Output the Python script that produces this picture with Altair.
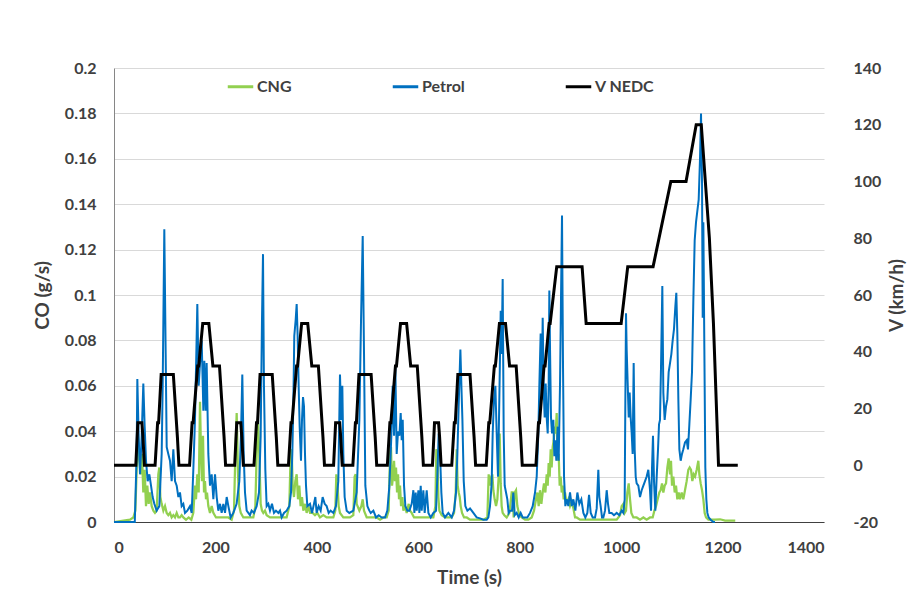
import altair as alt
import pandas as pd

# ---------------- data ----------------
petrol_t = [
    0, 41, 44.7, 46, 48.6, 51.3, 54.6, 57.8, 60.5, 63.1,
    66.4, 69.7, 73, 76.2, 79.5, 84.1, 89.4, 94, 96, 99.2,
    101.9, 103.9, 107.1, 110.4, 113.7, 117, 120.3, 123.6, 126.9, 130.1,
    133.4, 136.7, 140, 144.6, 149.9, 153.2, 156.4, 159.7, 164.3, 167,
    169.6, 172.9, 176.2, 178.1, 180.8, 182.7, 186, 189.3, 192.6, 195.9,
    199.2, 202.5, 205.7, 209, 212.3, 215.6, 218.9, 222.2, 225.5, 230,
    235.3, 241.8, 247.1, 250.4, 253, 255.7, 258.3, 261.6, 264.9, 268.1,
    271.4, 276, 281.3, 285.9, 289.2, 291.8, 293.8, 295.7, 298.4, 301,
    304.3, 307.6, 311.5, 315.5, 319.4, 324, 327.3, 330.6, 335.2, 340.4,
    345.7, 349, 351.6, 353.6, 355.5, 358.2, 360.2, 362.1, 364.1, 366.1,
    368.7, 370.7, 372.7, 374.6, 376.6, 378.6, 381.2, 386.5, 390.4, 394.3,
    397, 399.6, 403.5, 407.5, 411.4, 415.4, 419.3, 423.3, 427.2, 432.5,
    437.7, 442.3, 445.6, 448.2, 450.2, 452.2, 454.8, 458.8, 464, 472,
    478.5, 483.8, 487.1, 490.4, 493, 495.6, 499.6, 503.5, 506.2, 511.4,
    516.7, 521.9, 527.8, 534.4, 539, 543, 546.9, 549.5, 552.2, 554.8,
    557.4, 560.1, 562.7, 565.3, 567.3, 569.3, 571.9, 574.5, 578.5, 582.4,
    587, 590.3, 592.3, 594.9, 596.9, 600.2, 602.1, 604.8, 606.7, 610,
    612.6, 616.6, 619.9, 624.5, 629.7, 635, 637.6, 640.2, 642.9, 645.5,
    648.1, 652.7, 659.3, 665.9, 670.5, 674.4, 677.1, 679.7, 683, 685,
    687, 689.6, 692.8, 696.8, 702, 708.6, 715.1, 721.7, 728.3, 734.9,
    738.2, 741.4, 744.7, 746.7, 749.3, 752, 754.6, 757.2, 759.8, 762.5,
    764.4, 766.4, 768.4, 770.4, 773, 775.6, 778.2, 780.9, 784.8, 787.4,
    790.1, 794, 798, 801.9, 805.9, 810.5, 815, 820.3, 825.6, 830.2,
    833.5, 836.7, 838.7, 841.3, 843.3, 845.3, 847.3, 849.2, 851.2, 853.2,
    855.2, 857.1, 858.4, 859.8, 861.7, 863.7, 866.3, 868.3, 870.3, 872.2,
    874.9, 876.8, 879.5, 881.4, 883.4, 885.4, 887.4, 890, 892.6, 895.9,
    899.2, 902.5, 905.8, 909.7, 913.7, 917.6, 921.5, 925.5, 929.4, 933.4,
    936.7, 940, 943.9, 948.5, 951.8, 953.1, 955, 957, 959.6, 962.3,
    964.9, 968.2, 971.5, 974.1, 976.7, 981.3, 985.9, 991.2, 996.4, 1001,
    1004.3, 1007, 1008.3, 1009.6, 1010.9, 1012.9, 1014.9, 1016.8, 1018.8, 1020.8,
    1022.7, 1024.7, 1026.7, 1028.7, 1030.6, 1033.9, 1037.2, 1040.5, 1043.8, 1047.1,
    1050.3, 1053.6, 1056.9, 1058.9, 1060.9, 1062.8, 1064.8, 1067.4, 1070.1, 1072.7,
    1074.7, 1076.6, 1078.6, 1081.2, 1083.2, 1085.8, 1088.5, 1091.1, 1093.7, 1096.4,
    1099, 1101.6, 1104.2, 1106.9, 1108.8, 1110.8, 1112.8, 1114.8, 1117.4, 1120,
    1122.6, 1125.9, 1129.2, 1131.8, 1134.5, 1137.1, 1139.7, 1142.4, 1145, 1147.6,
    1150.2, 1152.9, 1155.5, 1157.5, 1159.5, 1160.8, 1162.1, 1164.1, 1166, 1168,
    1170, 1172.6, 1176.5, 1181.8, 1185,
]
petrol_co = [
    0, 0, 0.030, 0.063, 0.038, 0.021, 0.038, 0.061, 0.042, 0.027,
    0.018, 0.021, 0.016, 0.011, 0.008, 0.005, 0.007, 0.030, 0.060, 0.129,
    0.074, 0.033, 0.030, 0.027, 0.018, 0.032, 0.018, 0.016, 0.011, 0.013,
    0.007, 0.008, 0.004, 0.005, 0.007, 0.004, 0.023, 0.045, 0.096, 0.060,
    0.070, 0.080, 0.049, 0.071, 0.049, 0.070, 0.030, 0.016, 0.021, 0.010,
    0.021, 0.011, 0.005, 0.008, 0.004, 0.008, 0.004, 0.011, 0.007, 0.002,
    0.004, 0.008, 0.018, 0.038, 0.065, 0.030, 0.013, 0.005, 0.004, 0.003,
    0.005, 0.004, 0.007, 0.013, 0.038, 0.089, 0.118, 0.060, 0.023, 0.007,
    0.008, 0.005, 0.008, 0.004, 0.005, 0.004, 0.005, 0.002, 0.004, 0.005,
    0.007, 0.013, 0.030, 0.052, 0.082, 0.089, 0.096, 0.082, 0.060, 0.042,
    0.027, 0.045, 0.055, 0.051, 0.030, 0.016, 0.007, 0.008, 0.004, 0.008,
    0.011, 0.004, 0.007, 0.005, 0.011, 0.008, 0.007, 0.004, 0.005, 0.004,
    0.007, 0.018, 0.065, 0.045, 0.060, 0.030, 0.011, 0.005, 0.004, 0.005,
    0.013, 0.045, 0.089, 0.126, 0.074, 0.016, 0.007, 0.005, 0.004, 0.005,
    0.002, 0.003, 0.002, 0.002, 0.005, 0.016, 0.038, 0.060, 0.038, 0.068,
    0.030, 0.040, 0.038, 0.048, 0.036, 0.045, 0.016, 0.007, 0.005, 0.005,
    0.008, 0.014, 0.004, 0.013, 0.005, 0.014, 0.004, 0.016, 0.005, 0.014,
    0.004, 0.014, 0.004, 0.002, 0.004, 0.005, 0.020, 0.039, 0.030, 0.013,
    0.004, 0.002, 0.004, 0.002, 0.005, 0.013, 0.030, 0.052, 0.076, 0.060,
    0.045, 0.018, 0.007, 0.005, 0.006, 0.004, 0.002, 0.0016, 0.001, 0.001,
    0.002, 0.007, 0.017, 0.039, 0.054, 0.060, 0.039, 0.020, 0.054, 0.093,
    0.074, 0.107, 0.039, 0.016, 0.013, 0.010, 0.004, 0.005, 0.005, 0.013,
    0.003, 0.004, 0.002, 0.004, 0.002, 0.002, 0.002, 0.004, 0.007, 0.013,
    0.020, 0.039, 0.060, 0.083, 0.054, 0.090, 0.058, 0.046, 0.061, 0.046,
    0.039, 0.060, 0.102, 0.076, 0.046, 0.039, 0.045, 0.029, 0.036, 0.027,
    0.042, 0.027, 0.061, 0.098, 0.135, 0.068, 0.020, 0.007, 0.010, 0.007,
    0.013, 0.007, 0.010, 0.005, 0.013, 0.008, 0.010, 0.004, 0.002, 0.004,
    0.012, 0.004, 0.002, 0.002, 0.006, 0.013, 0.023, 0.011, 0.007, 0.002,
    0.002, 0.005, 0.014, 0.008, 0.004, 0.004, 0.003, 0.004, 0.003, 0.005,
    0.004, 0.010, 0.054, 0.092, 0.076, 0.061, 0.046, 0.057, 0.046, 0.039,
    0.030, 0.070, 0.032, 0.020, 0.017, 0.016, 0.011, 0.014, 0.016, 0.018,
    0.020, 0.023, 0.014, 0.005, 0.024, 0.038, 0.018, 0.005, 0.020, 0.032,
    0.043, 0.045, 0.068, 0.104, 0.057, 0.045, 0.051, 0.054, 0.066, 0.070,
    0.074, 0.080, 0.085, 0.095, 0.101, 0.083, 0.054, 0.032, 0.027, 0.030,
    0.032, 0.035, 0.036, 0.032, 0.043, 0.054, 0.066, 0.098, 0.124, 0.132,
    0.137, 0.142, 0.160, 0.180, 0.149, 0.090, 0.132, 0.076, 0.024, 0.010,
    0.004, 0.002, 0.001, 0.0, 0.0,
]

cng_t = [
    0, 31.5, 38.1, 42.1, 44.7, 47.3, 50, 52.6, 55.2, 57.8,
    60.5, 63.1, 65.7, 68.4, 71, 74.3, 77.6, 80.8, 84.1, 87.4,
    89.4, 91.4, 94, 97.3, 100.6, 103.9, 107.1, 110.4, 113.7, 117,
    120.3, 123.6, 126.9, 130.1, 133.4, 136.7, 142, 147.2, 152.5, 156.4,
    159.7, 161.7, 164.3, 167, 169.6, 171.6, 173.5, 175.5, 177.5, 179.4,
    181.4, 183.4, 186, 189.3, 192.6, 195.9, 201.1, 205.7, 212.3, 218.9,
    225.5, 232, 236.6, 239.3, 241.9, 244.5, 247.1, 250, 255, 261.6,
    268.1, 274.7, 278.7, 281.3, 283.9, 286.5, 289.2, 291.8, 294.4, 297.7,
    301, 307.6, 314.2, 320.7, 327.3, 333.9, 340.4, 345.7, 348.3, 350.3,
    352.3, 354.9, 357.5, 360.2, 362.8, 365.4, 368, 370.7, 373.3, 376.6,
    379.9, 383.2, 386.5, 391.7, 396.3, 400.9, 406.2, 412.7, 419.3, 425.9,
    432.5, 436.4, 438.4, 440.4, 443, 445.6, 452.2, 458.8, 465.3, 471.9,
    474.5, 476.5, 478.5, 483.8, 487.7, 490.4, 493, 498.3, 504.8, 511.4,
    518, 524.6, 531.1, 537.7, 541.6, 544.3, 546.2, 548.2, 550.2, 552.2,
    554.1, 556.1, 558.1, 560.1, 562, 564, 566, 568.6, 570.6, 573.9,
    577.1, 581.1, 583.7, 587, 591.6, 596.9, 603.4, 610, 616.6, 623.2,
    629.7, 633.7, 635.6, 637.6, 639.6, 641.6, 646.2, 652.7, 659.3, 665.9,
    670.5, 673.8, 675.7, 677.7, 679.7, 681.7, 683.6, 686.3, 690.2, 695.5,
    702, 715, 728.3, 736.2, 738.8, 741.4, 744.1, 746, 748, 750.6,
    753.3, 755.9, 758.5, 760.5, 762.5, 764.4, 766.4, 769.7, 774.3, 779.6,
    784.2, 786.1, 788.1, 790.1, 792.7, 795.3, 799.3, 803.9, 810.5, 817,
    823.6, 828.2, 832.1, 834.8, 837.4, 840, 842.7, 845.3, 847.9, 850.6,
    853.2, 855.2, 857.1, 859.1, 861.1, 863, 865, 867, 869, 870.9,
    872.9, 874.9, 876.8, 878.8, 880.8, 882.8, 884.7, 886.7, 889.3, 892.6,
    895.9, 899.2, 902.5, 905.8, 909.1, 912.3, 918.9, 932.1, 951.7, 978,
    991.2, 997.8, 1001, 1004.3, 1007, 1009.6, 1012.2, 1014.9, 1017.5, 1020.1,
    1024.1, 1030.6, 1037.2, 1043.8, 1050.3, 1056.9, 1062.2, 1065.5, 1068.8, 1072,
    1075.3, 1077.9, 1080.6, 1083.2, 1085.8, 1088.5, 1091.1, 1093.7, 1096.4, 1098.3,
    1100.3, 1102.9, 1105.6, 1108.2, 1110.8, 1113.4, 1116.1, 1119.4, 1122.6, 1125.9,
    1129.2, 1132.5, 1135.1, 1137.8, 1140.4, 1143, 1145.7, 1149, 1152.2, 1154.2,
    1156.8, 1159.5, 1162.1, 1164.7, 1167.4, 1172, 1185, 1195, 1205, 1225,
]
cng_co = [
    0, 0.001, 0.002, 0.005, 0.023, 0.039, 0.027, 0.021, 0.030, 0.013,
    0.023, 0.007, 0.016, 0.008, 0.013, 0.007, 0.005, 0.004, 0.005, 0.021,
    0.024, 0.011, 0.008, 0.005, 0.007, 0.004, 0.003, 0.004, 0.002, 0.003,
    0.002, 0.004, 0.002, 0.002, 0.003, 0.002, 0.001, 0.002, 0.001, 0.004,
    0.016, 0.010, 0.021, 0.013, 0.053, 0.030, 0.018, 0.038, 0.013, 0.018,
    0.010, 0.013, 0.007, 0.004, 0.007, 0.004, 0.002, 0.002, 0.002, 0.002,
    0.002, 0.001, 0.005, 0.030, 0.048, 0.021, 0.007, 0.004, 0.002, 0.002,
    0.002, 0.002, 0.007, 0.030, 0.045, 0.030, 0.008, 0.005, 0.004, 0.005,
    0.003, 0.002, 0.002, 0.002, 0.002, 0.002, 0.002, 0.007, 0.030, 0.032,
    0.016, 0.011, 0.018, 0.021, 0.010, 0.016, 0.007, 0.011, 0.005, 0.008,
    0.004, 0.007, 0.004, 0.004, 0.003, 0.004, 0.002, 0.003, 0.002, 0.002,
    0.002, 0.005, 0.021, 0.018, 0.007, 0.004, 0.002, 0.002, 0.002, 0.003,
    0.020, 0.021, 0.008, 0.005, 0.007, 0.010, 0.005, 0.002, 0.002, 0.002,
    0.002, 0.001, 0.002, 0.002, 0.005, 0.030, 0.033, 0.016, 0.020, 0.027,
    0.018, 0.024, 0.013, 0.021, 0.010, 0.016, 0.007, 0.011, 0.005, 0.007,
    0.004, 0.008, 0.005, 0.004, 0.002, 0.002, 0.002, 0.002, 0.002, 0.002,
    0.002, 0.007, 0.032, 0.030, 0.011, 0.005, 0.003, 0.002, 0.002, 0.002,
    0.004, 0.013, 0.032, 0.016, 0.013, 0.011, 0.007, 0.004, 0.002, 0.002,
    0.001, 0.001, 0.001, 0.002, 0.021, 0.016, 0.020, 0.021, 0.014, 0.010,
    0.007, 0.010, 0.020, 0.039, 0.017, 0.007, 0.004, 0.003, 0.002, 0.004,
    0.013, 0.013, 0.002, 0.013, 0.014, 0.007, 0.003, 0.002, 0.001, 0.001,
    0.002, 0.005, 0.010, 0.013, 0.007, 0.014, 0.008, 0.013, 0.017, 0.013,
    0.021, 0.016, 0.026, 0.020, 0.032, 0.024, 0.033, 0.036, 0.042, 0.039,
    0.048, 0.027, 0.030, 0.016, 0.020, 0.013, 0.016, 0.010, 0.013, 0.008,
    0.010, 0.007, 0.009, 0.006, 0.002, 0.002, 0.001, 0.001, 0.001, 0.001,
    0.001, 0.003, 0.007, 0.008, 0.004, 0.005, 0.013, 0.017, 0.010, 0.004,
    0.002, 0.002, 0.001, 0.002, 0.001, 0.002, 0.002, 0.005, 0.007, 0.010,
    0.013, 0.014, 0.017, 0.013, 0.016, 0.017, 0.024, 0.028, 0.021, 0.027,
    0.016, 0.020, 0.013, 0.016, 0.010, 0.013, 0.010, 0.013, 0.010, 0.014,
    0.018, 0.023, 0.024, 0.023, 0.018, 0.021, 0.020, 0.023, 0.027, 0.021,
    0.017, 0.014, 0.010, 0.004, 0.002, 0.001, 0.001, 0.0012, 0.0006, 0.0006,
]

# NEDC speed profile breakpoints (s, km/h), as drawn in the reference
nedc_t = [
    0, 43, 47, 55, 57, 60, 81, 86, 88, 93, 117, 125, 128, 149, 154, 156, 165, 167, 175, 187, 195, 208, 217, 220,
    238, 242, 250, 252, 255, 276, 281, 283, 288, 312, 320, 323, 344, 349, 351, 360, 362, 370, 382, 390, 403, 412, 415,
    433, 437, 445, 447, 450, 471, 476, 478, 483, 507, 515, 518, 539, 544, 546, 555, 557, 565, 577, 585, 598, 607, 610,
    628, 632, 640, 642, 645, 666, 671, 673, 678, 702, 710, 713, 734, 739, 741, 750, 752, 760, 772, 780, 793, 802, 805,
    832, 837, 839, 848, 850, 858, 860, 873, 923, 931, 1000, 1013, 1063, 1098, 1128, 1148, 1158, 1174, 1182, 1192, 1230,
]
nedc_v = [
    0, 0, 15, 15, 10, 0, 0, 15, 15, 32, 32, 10, 0, 0, 15, 15, 35, 35, 50, 50, 35, 35, 10, 0,
    0, 15, 15, 10, 0, 0, 15, 15, 32, 32, 10, 0, 0, 15, 15, 35, 35, 50, 50, 35, 35, 10, 0,
    0, 15, 15, 10, 0, 0, 15, 15, 32, 32, 10, 0, 0, 15, 15, 35, 35, 50, 50, 35, 35, 10, 0,
    0, 15, 15, 10, 0, 0, 15, 15, 32, 32, 10, 0, 0, 15, 15, 35, 35, 50, 50, 35, 35, 10, 0,
    0, 15, 15, 35, 35, 50, 50, 70, 70, 50, 50, 70, 70, 100, 100, 120, 120, 80, 50, 0, 0,
]

series_names = ["CNG", "Petrol", "V NEDC"]
series_colors = ["#92D050", "#0070C0", "#000000"]
x_ticks = [0, 200, 400, 600, 800, 1000, 1200, 1400]
co_ticks = [0, 0.02, 0.04, 0.06, 0.08, 0.1, 0.12, 0.14, 0.16, 0.18, 0.2]
v_ticks = [-20, 0, 20, 40, 60, 80, 100, 120, 140]

assert len(petrol_t) == len(petrol_co), (len(petrol_t), len(petrol_co))
assert len(cng_t) == len(cng_co), (len(cng_t), len(cng_co))
assert len(nedc_t) == len(nedc_v), (len(nedc_t), len(nedc_v))

petrol_df = pd.DataFrame({"t": petrol_t, "val": petrol_co, "s": "Petrol"})
cng_df = pd.DataFrame({"t": cng_t, "val": cng_co, "s": "CNG"})
nedc_df = pd.DataFrame({"t": nedc_t, "val": nedc_v, "s": "V NEDC"})

FONT = "Lato"
TXT = "#404040"

color = alt.Color(
    "s:N",
    scale=alt.Scale(domain=series_names, range=series_colors),
    legend=alt.Legend(
        title=None,
        orient="none",
        legendX=112,
        legendY=4,
        direction="horizontal",
        symbolType="stroke",
        symbolSize=650,
        symbolStrokeWidth=3,
        labelFont=FONT,
        labelFontSize=16,
        labelFontWeight="bold",
        labelColor=TXT,
        labelOffset=2,
        columnPadding=94,
        padding=0,
    ),
)

x_enc = alt.X(
    "t:Q",
    scale=alt.Scale(domain=[0, 1400], nice=False),
    axis=alt.Axis(
        values=x_ticks,
        format="d",
        title="Time (s)",
        grid=False,
        ticks=False,
        tickSize=0,
        domainColor="#404040",
        domainWidth=1,
        labelPadding=17,
        labelFont=FONT,
        labelFontSize=16,
        labelFontWeight="bold",
        labelColor=TXT,
        titleFont=FONT,
        titleFontSize=19,
        titleFontWeight="bold",
        titleColor=TXT,
        titlePadding=13,
    ),
)

y_co = alt.Y(
    "val:Q",
    scale=alt.Scale(domain=[0, 0.2], nice=False),
    axis=alt.Axis(
        values=co_ticks,
        format=".2~f",
        title="CO (g/s)",
        grid=True,
        gridColor="#d9d9d9",
        gridWidth=1,
        ticks=False,
        tickSize=0,
        domainColor="#868686",
        domainWidth=1,
        labelPadding=18,
        labelFont=FONT,
        labelFontSize=16,
        labelFontWeight="bold",
        labelColor=TXT,
        titleFont=FONT,
        titleFontSize=19,
        titleFontWeight="bold",
        titleColor=TXT,
        titlePadding=12,
    ),
)

y_v = alt.Y(
    "val:Q",
    scale=alt.Scale(domain=[-20, 140], nice=False),
    axis=alt.Axis(
        orient="right",
        values=v_ticks,
        labelExpr="datum.value + ''",
        title="V (km/h)",
        titleAngle=270,
        grid=False,
        ticks=False,
        tickSize=0,
        domain=False,
        labelPadding=29,
        labelFont=FONT,
        labelFontSize=16,
        labelFontWeight="bold",
        labelColor=TXT,
        titleFont=FONT,
        titleFontSize=19,
        titleFontWeight="bold",
        titleColor=TXT,
        titlePadding=26,
    ),
)

cng = alt.Chart(cng_df).mark_line(strokeWidth=2.25).encode(x=x_enc, y=y_co, color=color, order="t:Q")
petrol = alt.Chart(petrol_df).mark_line(strokeWidth=2).encode(x=x_enc, y=y_co, color=color, order="t:Q")
nedc = alt.Chart(nedc_df).mark_line(strokeWidth=3).encode(x=x_enc, y=y_v, color=color, order="t:Q")

co_layer = alt.layer(cng, petrol)

chart = (
    alt.layer(co_layer, nedc)
    .resolve_scale(y="independent")
    .properties(
        width=710,
        height=454,
        autosize=alt.AutoSizeParams(type="none"),
        padding={"left": 114, "top": 68, "right": 84, "bottom": 75},
        background="white",
    )
    .configure_view(strokeWidth=0)
)

chart.save("out.html", embed_options={"renderer": "svg", "actions": False})
